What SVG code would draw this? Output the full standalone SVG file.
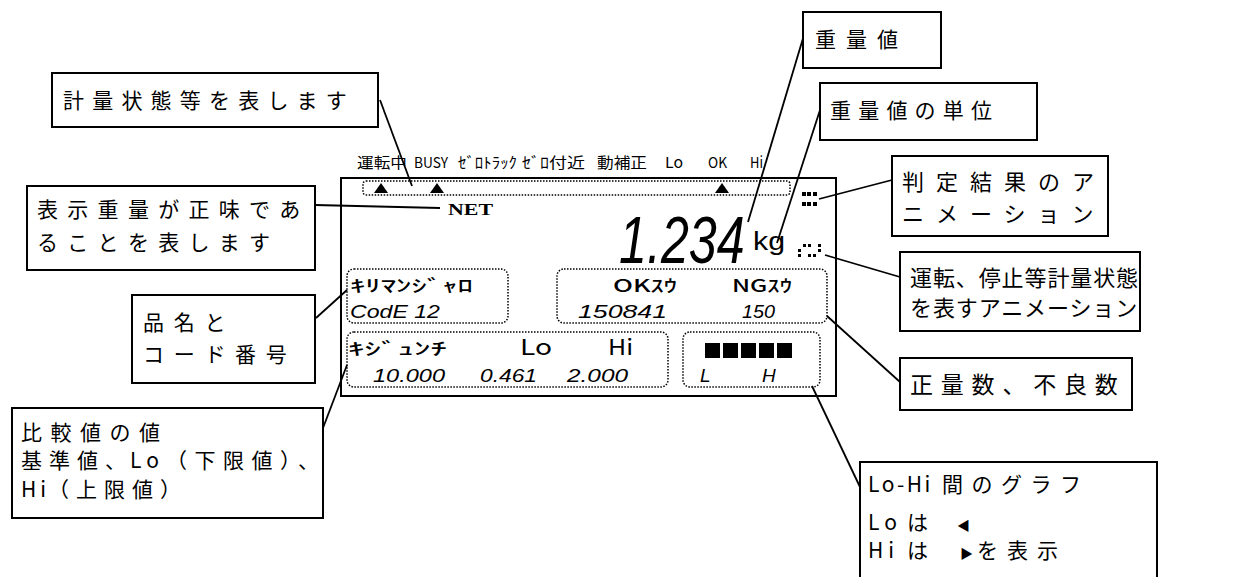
<svg xmlns="http://www.w3.org/2000/svg" width="1244" height="577" viewBox="0 0 1244 577">
<style>
.box{fill:#fff;stroke:#000;stroke-width:2}
.lbl{font-family:"Noto Sans CJK JP",sans-serif;font-size:21px;fill:#000}
.dot{fill:none;stroke:#000;stroke-width:1.5;stroke-dasharray:1.5 1.5}
.st{font-family:"Noto Sans CJK JP",sans-serif;font-size:15px;fill:#000}
.md{font-family:"Noto Sans CJK JP",sans-serif;font-size:17px;font-weight:500;fill:#000}
.seg{font-family:"Liberation Sans",sans-serif;font-style:italic;fill:#000;font-size:19px}
.ln{stroke:#000;stroke-width:1.8;fill:none}
</style>
<rect width="1244" height="577" fill="#fff"/>
<g id="display">
<rect x="341" y="178" width="495" height="218" fill="#fff" stroke="#000" stroke-width="2"/>
<text class="st" x="357" y="168" textLength="50" lengthAdjust="spacingAndGlyphs">運転中</text>
<text class="st" x="414" y="168" textLength="34" lengthAdjust="spacingAndGlyphs">BUSY</text>
<text class="st" x="458" y="168" textLength="59" lengthAdjust="spacingAndGlyphs">ｾﾞﾛﾄﾗｯｸ</text>
<text class="st" x="522" y="168" textLength="63" lengthAdjust="spacingAndGlyphs">ｾﾞﾛ付近</text>
<text class="st" x="597" y="168" textLength="50" lengthAdjust="spacingAndGlyphs">動補正</text>
<text class="st" x="665" y="168" textLength="18" lengthAdjust="spacingAndGlyphs">Lo</text>
<text class="st" x="708" y="168" textLength="19" lengthAdjust="spacingAndGlyphs">OK</text>
<text class="st" x="750" y="168" textLength="13" lengthAdjust="spacingAndGlyphs">Hi</text>
<rect class="dot" x="363" y="181" width="427" height="14" rx="3"/>
<polygon points="374,193 388,193 381,183"/>
<polygon points="430,193 444,193 437,183"/>
<polygon points="715,193 729,193 722,183"/>
<text x="448" y="215" font-family="Liberation Serif,serif" font-weight="bold" font-size="17" textLength="45" lengthAdjust="spacingAndGlyphs">NET</text>
<g fill="#000">
<rect x="802" y="192" width="4" height="4"/><rect x="807" y="192" width="4" height="4"/><rect x="813" y="192" width="4" height="4"/>
<rect x="802" y="202" width="4" height="4"/><rect x="807" y="202" width="4" height="4"/><rect x="813" y="202" width="4" height="4"/>
</g>
<text class="seg" transform="translate(619,263) scale(0.93,1.25)" style="font-size:54px">1.234</text>
<text x="753" y="250" font-family="Liberation Sans,sans-serif" font-size="25" textLength="32" lengthAdjust="spacingAndGlyphs">kg</text>
<g fill="#000">
<rect x="803" y="244" width="3" height="3"/><rect x="808" y="244" width="3" height="3"/><rect x="818" y="244" width="3" height="3"/>
<rect x="798" y="249" width="3" height="3"/><rect x="818" y="249" width="3" height="3"/>
<rect x="798" y="254" width="3" height="3"/><rect x="808" y="254" width="3" height="3"/><rect x="813" y="254" width="3" height="3"/>
</g>
<rect class="dot" x="347" y="269" width="161" height="54" rx="7"/>
<rect class="dot" x="557" y="269" width="270" height="54" rx="7"/>
<rect class="dot" x="347" y="332" width="321" height="55" rx="7"/>
<rect class="dot" x="683" y="332" width="137" height="55" rx="7"/>
<text class="md" x="350" y="292" textLength="123" lengthAdjust="spacingAndGlyphs">ｷﾘﾏﾝｼﾞｬﾛ</text>
<text class="md" x="613" y="292" textLength="64" lengthAdjust="spacingAndGlyphs">OKｽｳ</text>
<text class="md" x="732" y="292" textLength="60" lengthAdjust="spacingAndGlyphs">NGｽｳ</text>
<text class="seg" x="350" y="318" textLength="90" lengthAdjust="spacingAndGlyphs">CodE 12</text>
<text class="seg" x="578" y="318" textLength="89" lengthAdjust="spacingAndGlyphs">150841</text>
<text class="seg" x="742" y="318" textLength="33" lengthAdjust="spacingAndGlyphs">150</text>
<text class="md" x="348" y="355" textLength="99" lengthAdjust="spacingAndGlyphs">ｷｼﾞｭﾝﾁ</text>
<text class="md" x="520" y="355" style="font-size:22px;font-weight:400" textLength="32" lengthAdjust="spacingAndGlyphs">Lo</text>
<text class="md" x="608" y="355" style="font-size:22px;font-weight:400" textLength="25" lengthAdjust="spacingAndGlyphs">Hi</text>
<text class="seg" x="373" y="382" textLength="72" lengthAdjust="spacingAndGlyphs">10.000</text>
<text class="seg" x="480" y="382" textLength="57" lengthAdjust="spacingAndGlyphs">0.461</text>
<text class="seg" x="567" y="382" textLength="61" lengthAdjust="spacingAndGlyphs">2.000</text>
<g fill="#000">
<rect x="705" y="343" width="15" height="15"/><rect x="723" y="343" width="15" height="15"/><rect x="741" y="343" width="15" height="15"/><rect x="759" y="343" width="15" height="15"/><rect x="777" y="343" width="15" height="15"/>
</g>
<text class="seg" x="700" y="382">L</text>
<text class="seg" x="762" y="382">H</text>
</g>
<g id="connectors">
<line class="ln" x1="380" y1="100" x2="412" y2="186"/>
<line class="ln" x1="315" y1="205" x2="440" y2="208"/>
<line class="ln" x1="316" y1="318" x2="347" y2="290"/>
<line class="ln" x1="323" y1="428" x2="347" y2="365"/>
<line class="ln" x1="804" y1="35" x2="748" y2="222"/>
<line class="ln" x1="820" y1="110" x2="777" y2="243"/>
<line class="ln" x1="892" y1="180" x2="819" y2="199"/>
<line class="ln" x1="900" y1="277" x2="825" y2="255"/>
<line class="ln" x1="900" y1="382" x2="827" y2="316"/>
<line class="ln" x1="860" y1="487" x2="812" y2="386"/>
</g>
<g id="n1"><rect class="box" x="52" y="73" width="326" height="54"/><text class="lbl" x="63" y="108" letter-spacing="8.2">計量状態等を表します</text></g>
<g id="n2"><rect class="box" x="27" y="186" width="288" height="84"/><text class="lbl" x="37" y="217" letter-spacing="9.3">表示重量が正味であ</text><text class="lbl" x="37" y="250" letter-spacing="9.3">ることを表します</text></g>
<g id="n3"><rect class="box" x="132" y="295" width="183" height="88"/><text class="lbl" x="143" y="330" letter-spacing="9.7">品名と</text><text class="lbl" x="143" y="362" letter-spacing="9.7">コード番号</text></g>
<g id="n4"><rect class="box" x="12" y="408" width="311" height="110"/>
<text class="lbl" x="21" y="440" letter-spacing="8.5">比較値の値</text>
<text class="lbl" y="468"><tspan x="21" letter-spacing="7">基準値、</tspan><tspan x="130" letter-spacing="5">Lo</tspan><tspan x="166" letter-spacing="7.5">（下限値）、</tspan></text>
<text class="lbl" y="497"><tspan x="21" letter-spacing="4">Hi</tspan><tspan x="48" letter-spacing="7">（上限値）</tspan></text></g>
<g id="n5"><rect class="box" x="803" y="12" width="138" height="56"/><text class="lbl" x="815" y="47" letter-spacing="10">重量値</text></g>
<g id="n6"><rect class="box" x="820" y="83" width="217" height="57"/><text class="lbl" x="830" y="118" letter-spacing="7.2">重量値の単位</text></g>
<g id="n7"><rect class="box" x="892" y="156" width="216" height="80"/><text class="lbl" x="902" y="190" style="font-size:22px" letter-spacing="12">判定結果のア</text><text class="lbl" x="902" y="222" style="font-size:22px" letter-spacing="12">ニメーション</text></g>
<g id="n8"><rect class="box" x="900" y="252" width="240" height="79"/><text class="lbl" x="910" y="286" style="font-size:22px" letter-spacing="0.9">運転、停止等計量状態</text><text class="lbl" x="910" y="316" style="font-size:22px" letter-spacing="0.9">を表すアニメーション</text></g>
<g id="n9"><rect class="box" x="900" y="358" width="232" height="52"/><text class="lbl" x="910" y="393" style="font-size:23px" letter-spacing="7.8">正量数、不良数</text></g>
<g id="n10"><rect class="box" x="860" y="462" width="297" height="130"/>
<text class="lbl" y="492"><tspan x="868" letter-spacing="2.5">Lo-Hi</tspan><tspan x="942" letter-spacing="8.5">間のグラフ</tspan></text>
<text class="lbl" y="530"><tspan x="868" letter-spacing="5">Lo</tspan><tspan x="907">は</tspan><tspan x="957" style="font-size:13px">◀</tspan></text>
<text class="lbl" y="558"><tspan x="868" letter-spacing="5">Hi</tspan><tspan x="907">は</tspan><tspan x="960" style="font-size:13px">▶</tspan><tspan x="977" letter-spacing="9">を表示</tspan></text></g>
</svg>
